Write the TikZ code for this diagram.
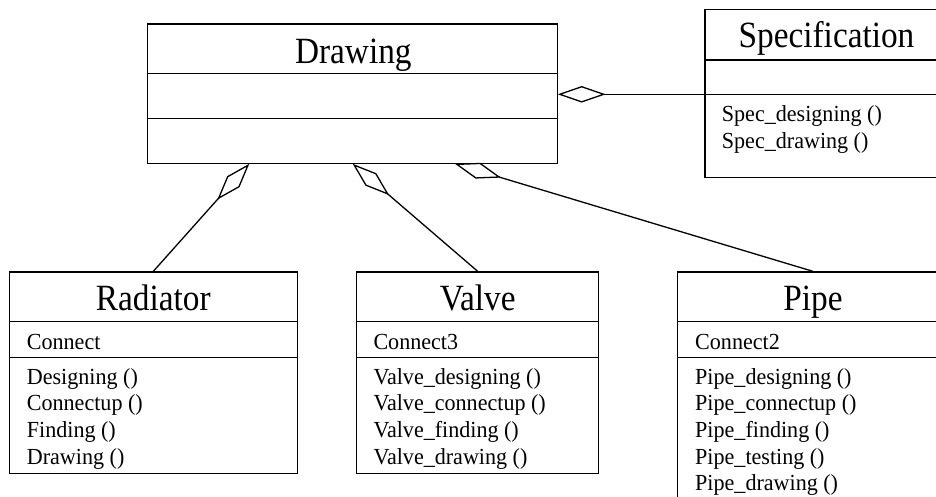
\documentclass[tikz,border=0pt]{standalone}
\usepackage{fontspec}
\setmainfont{Liberation Serif}
\newfontfamily\titlefont{Liberation Serif}[FakeStretch=0.9]
\newfontfamily\memberfont{Liberation Serif}[FakeStretch=0.96]
\usetikzlibrary{arrows.meta}
\begin{document}
\begin{tikzpicture}[x=1pt,y=-1pt,
  box/.style={draw,line width=1.3pt,inner sep=0pt,fill=none},
  sep/.style={line width=1.3pt},
  title/.style={anchor=base,inner sep=0pt,font=\titlefont\fontsize{37}{40}\selectfont},
  member/.style={anchor=base west,inner sep=0pt,font=\memberfont\fontsize{23}{26.7}\selectfont},
  agg/.style={line width=1.3pt,line join=miter,-{Diamond[open,length=48pt,width=16.5pt,line width=1.3pt]}}]
\useasboundingbox (0,0) rectangle (936,497);
\clip (0,0) rectangle (936,497);
\fill[white] (0,0) rectangle (936,497);
% Drawing
\node[box,minimum width=410.4pt,minimum height=139.3pt] (drawing) at (352.5,93.65) {};
\draw[sep] (147.3,73.3) -- (557.7,73.3);
\draw[sep] (147.3,118.3) -- (557.7,118.3);
\node[title] (drawingT) at (353.3,63.3) {Drawing};
% Specification
\node[box,minimum width=243pt,minimum height=168pt] (spec) at (826.5,93.3) {};
\draw[sep] (705,60) -- (948,60);
\draw[sep] (705,94.3) -- (948,94.3);
\node[title] (specT) at (826.5,47.7) {Specification};
\foreach \t [count=\i] in {Spec\_designing (),Spec\_drawing ()}
  \node[member] (specM\i) at (721.7,{121.7+26.7*(\i-1)}) {\t};
% Radiator
\node[box,minimum width=288pt,minimum height=201.3pt] (radiator) at (153.3,372.65) {};
\draw[sep] (9.3,321.7) -- (297.3,321.7);
\draw[sep] (9.3,357.3) -- (297.3,357.3);
\node[title] (radiatorT) at (153.3,310) {Radiator};
\node[member] (radiatorA) at (26.7,349.3) {Connect};
\foreach \t [count=\i] in {Designing (),Connectup (),Finding (),Drawing ()}
  \node[member] (radiatorM\i) at (26.7,{384+26.7*(\i-1)}) {\t};
% Valve
\node[box,minimum width=242pt,minimum height=201.3pt] (valve) at (477.7,372.65) {};
\draw[sep] (356.7,321.7) -- (598.7,321.7);
\draw[sep] (356.7,357.3) -- (598.7,357.3);
\node[title] (valveT) at (477.7,310) {Valve};
\node[member] (valveA) at (373.3,349.3) {Connect3};
\foreach \t [count=\i] in {Valve\_designing (),Valve\_connectup (),Valve\_finding (),Valve\_drawing ()}
  \node[member] (valveM\i) at (373.3,{384+26.7*(\i-1)}) {\t};
% Pipe
\node[box,minimum width=271.7pt,minimum height=260pt] (pipe) at (813,402) {};
\draw[sep] (677.3,321.7) -- (949,321.7);
\draw[sep] (677.3,357.3) -- (949,357.3);
\node[title] (pipeT) at (813,310) {Pipe};
\node[member] (pipeA) at (695,349.3) {Connect2};
\foreach \t [count=\i] in {Pipe\_designing (),Pipe\_connectup (),Pipe\_finding (),Pipe\_testing (),Pipe\_drawing ()}
  \node[member] (pipeM\i) at (695,{384+26.7*(\i-1)}) {\t};
% aggregation ends on Drawing
\coordinate (dR) at (249.3,163.8);
\coordinate (dV) at (352.7,163.8);
\coordinate (dP) at (455,163.8);
\coordinate (dS) at (557.7,94.3);
\coordinate (sL) at (705,94.3);
\draw[agg] (radiator.north) -- (dR);
\draw[agg] (valve.north) -- (dV);
\draw[agg] (pipe.north) -- (dP);
\draw[agg] (sL) -- (dS);
\end{tikzpicture}
\end{document}
